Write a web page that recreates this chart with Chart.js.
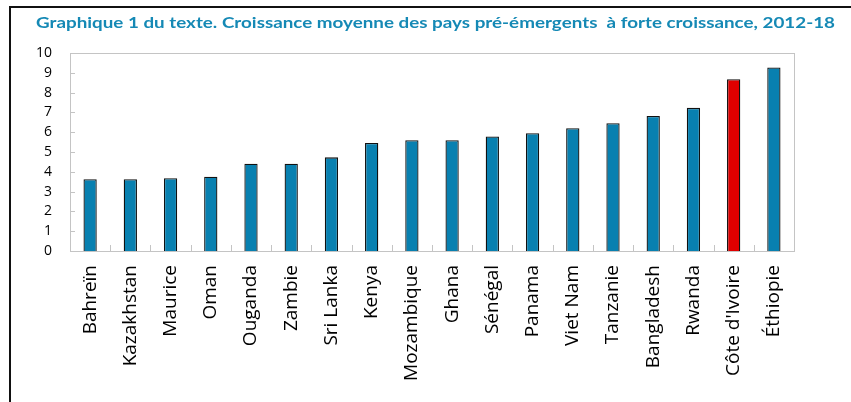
<!DOCTYPE html>
<html>
<head>
<meta charset="utf-8">
<script src="https://cdn.jsdelivr.net/npm/chart.js@4.4.1/dist/chart.umd.min.js"></script>
<style>
  html, body { margin: 0; padding: 0; background: #fff; }
  #wrap { position: relative; width: 851px; height: 402px; overflow: hidden; }
  #title { position: absolute; left: 36px; top: 12px; white-space: pre; font-family: Lato, "Open Sans", sans-serif; font-weight: 700; font-size: 16px; color: #1589b5; transform-origin: 0 0; }
  canvas { position: absolute; left: 0; top: 0; }
</style>
</head>
<body>
<div id="wrap">
  <canvas id="c" width="851" height="402"></canvas>
  <div id="title">Graphique 1 du texte. Croissance moyenne des pays pré-émergents  à forte croissance, 2012-18</div>
</div>
<script>
const categories = ["Bahreïn", "Kazakhstan", "Maurice", "Oman", "Ouganda", "Zambie", "Sri Lanka", "Kenya", "Mozambique", "Ghana", "Sénégal", "Panama", "Viet Nam", "Tanzanie", "Bangladesh", "Rwanda", "Côte d'Ivoire", "Éthiopie"];
const growth = [3.63, 3.63, 3.68, 3.75, 4.41, 4.41, 4.73, 5.46, 5.59, 5.59, 5.78, 5.95, 6.20, 6.45, 6.82, 7.23, 8.68, 9.27];
const highlighted = ["Côte d'Ivoire"];
const yTicks = [0, 1, 2, 3, 4, 5, 6, 7, 8, 9, 10];

// fit title width
const t = document.getElementById('title');
const w = t.getBoundingClientRect().width;
t.style.transform = 'scaleX(' + (799 / w) + ')';

const BLUE = '#0880b0', RED = '#e00000';

const decor = {
  id: 'decor',
  beforeDraw(chart) {
    const ctx = chart.ctx;
    ctx.save();
    ctx.fillStyle = '#fff';
    ctx.fillRect(0, 0, chart.width, chart.height);
    ctx.strokeStyle = '#111';
    ctx.lineWidth = 2;
    ctx.beginPath();
    ctx.moveTo(10, 402);
    ctx.lineTo(10, 7);
    ctx.lineTo(851, 7);
    ctx.stroke();
    ctx.restore();
  },
  beforeDatasetsDraw(chart) {
    const ctx = chart.ctx, a = chart.chartArea;
    const x = chart.scales.x, y = chart.scales.y;
    ctx.save();
    ctx.strokeStyle = '#c4c4c4';
    ctx.lineWidth = 1;
    ctx.strokeRect(Math.round(a.left) + 0.5, Math.round(a.top) + 0.5, Math.round(a.right - a.left), Math.round(a.bottom - a.top));
    ctx.beginPath();
    yTicks.forEach(v => {
      const py = Math.round(y.getPixelForValue(v)) + 0.5;
      ctx.moveTo(a.left, py); ctx.lineTo(a.left + 5, py);
    });
    for (let i = 0; i < categories.length - 1; i++) {
      const px = Math.round((x.getPixelForValue(i) + x.getPixelForValue(i + 1)) / 2) + 0.5;
      ctx.moveTo(px, a.bottom); ctx.lineTo(px, a.bottom - 6);
    }
    ctx.stroke();
    ctx.restore();
  }
};

new Chart(document.getElementById('c'), {
  type: 'bar',
  data: {
    labels: categories,
    datasets: [{
      data: growth,
      backgroundColor: categories.map(c => highlighted.includes(c) ? RED : BLUE),
      borderColor: '#111',
      borderWidth: 1.3,
      barPercentage: 0.33,
      categoryPercentage: 1.0
    }]
  },
  options: {
    responsive: false,
    devicePixelRatio: 1,
    animation: false,
    layout: { padding: { left: 12, right: 57, top: 53, bottom: 0 } },
    plugins: { legend: { display: false }, tooltip: { enabled: false }, title: { display: false } },
    scales: {
      x: {
        grid: { display: false, drawTicks: false },
        border: { display: false },
        ticks: { minRotation: 90, maxRotation: 90, autoSkip: false, padding: 14, color: '#000', font: { family: 'Open Sans', size: 19 } },
        afterFit(s) { s.height = 151; }
      },
      y: {
        min: 0, max: 10,
        afterBuildTicks(s) { s.ticks = yTicks.map(v => ({ value: v })); },
        grid: { display: false, drawTicks: false },
        border: { display: false },
        ticks: { padding: 18, color: '#000', font: { family: 'Open Sans', size: 14 } },
        afterFit(s) { s.width = 58; }
      }
    }
  },
  plugins: [decor]
});
</script>
</body>
</html>
